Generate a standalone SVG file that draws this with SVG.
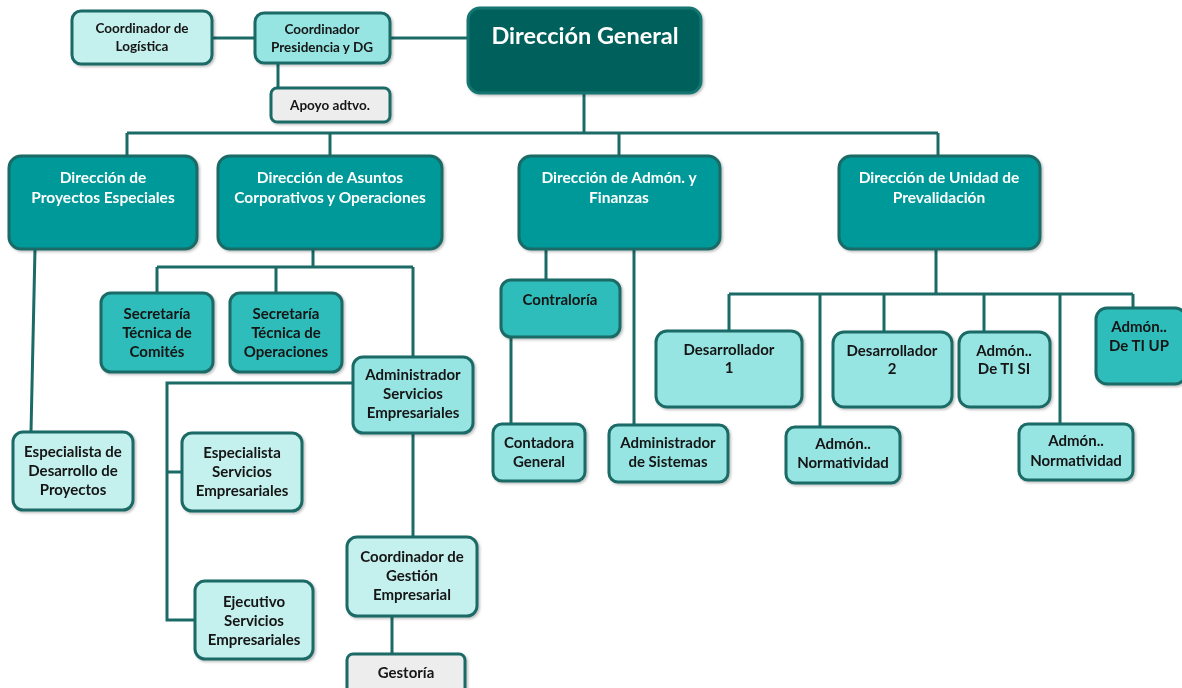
<svg xmlns="http://www.w3.org/2000/svg" width="1182" height="688" viewBox="0 0 1182 688">
<defs>
<style>
.n{stroke:#1B6A66;stroke-width:3}
.dg{fill:#02605B;stroke:#127570}
.d{fill:#009999}
.m{fill:#2FBDBA}
.l{fill:#96E5E3}
.p{fill:#C4F0EE}
.g{fill:#EDEDED}
text{font-family:Lato,"Liberation Sans",sans-serif;font-weight:bold;font-size:15px;fill:#141414;text-anchor:middle}
.s{font-size:13.5px}
.w{fill:#FFFFFF;font-size:15.5px}
.big{fill:#FFFFFF;font-size:23.5px}
#connectors path{fill:none;stroke:#1B6A66;stroke-width:3}
</style>
<filter id="sh" x="-10%" y="-10%" width="130%" height="130%">
<feDropShadow dx="1.5" dy="1.5" stdDeviation="1.2" flood-color="#000" flood-opacity="0.25"/>
</filter>
</defs>
<rect width="1182" height="688" fill="#FFFFFF"/>
<g id="connectors">
<path d="M212 38H255"/>
<path d="M390 38H468"/>
<path d="M278 63V88"/>
<path d="M584 93V133"/>
<path d="M127 133H938"/>
<path d="M127 133V156M330 133V156M619 133V156M938 133V156"/>
<path d="M35 249L31 432"/>
<path d="M313 249V267M157 267H413M157 267V293M276 267V293M413 267V357"/>
<path d="M353 383H167V620H195M167 472H182"/>
<path d="M413 433V537"/>
<path d="M392 616V654"/>
<path d="M546 249V280M511 337V424M634 249V425"/>
<path d="M936 249V294M729 294H1133M729 294V331M820 294V427M884 294V332M984 294V332M1060 294V424M1133 294V308"/>
</g>
<g filter="url(#sh)">
<g id="logistica"><rect class="n p" x="72" y="11" width="140" height="53" rx="9"/><text class="s" x="142" y="33">Coordinador de</text><text class="s" x="142" y="51">Logística</text></g>
<g id="presidencia"><rect class="n l" x="255" y="13" width="135" height="50" rx="9"/><text class="s" x="322" y="34">Coordinador</text><text class="s" x="322" y="52">Presidencia y DG</text></g>
<g id="apoyo"><rect class="n g" x="271" y="88" width="119" height="34" rx="6"/><text class="s" x="330" y="110">Apoyo adtvo.</text></g>
<g id="direccion-general"><rect class="n dg" x="468" y="8" width="233" height="85" rx="12"/><text class="big" x="585" y="44">Dirección General</text></g>
<g id="dir-proyectos"><rect class="n d" x="9" y="156" width="188" height="93" rx="12"/><text class="w" x="103" y="183">Dirección de</text><text class="w" x="103" y="203">Proyectos Especiales</text></g>
<g id="dir-asuntos"><rect class="n d" x="218" y="156" width="224" height="93" rx="12"/><text class="w" x="330" y="183">Dirección de Asuntos</text><text class="w" x="330" y="203">Corporativos y Operaciones</text></g>
<g id="dir-admon"><rect class="n d" x="519" y="156" width="201" height="93" rx="12"/><text class="w" x="619" y="183">Dirección de Admón. y</text><text class="w" x="619" y="203">Finanzas</text></g>
<g id="dir-prevalidacion"><rect class="n d" x="839" y="156" width="201" height="93" rx="12"/><text class="w" x="939" y="183">Dirección de Unidad de</text><text class="w" x="939" y="203">Prevalidación</text></g>
<g id="sec-comites"><rect class="n m" x="101" y="293" width="112" height="79" rx="10"/><text x="157" y="319">Secretaría</text><text x="157" y="338">Técnica de</text><text x="157" y="357">Comités</text></g>
<g id="sec-operaciones"><rect class="n m" x="230" y="293" width="112" height="79" rx="10"/><text x="286" y="319">Secretaría</text><text x="286" y="338">Técnica de</text><text x="286" y="357">Operaciones</text></g>
<g id="admin-servicios"><rect class="n l" x="353" y="357" width="120" height="76" rx="10"/><text x="413" y="380">Administrador</text><text x="413" y="399">Servicios</text><text x="413" y="418">Empresariales</text></g>
<g id="esp-desarrollo"><rect class="n p" x="13" y="432" width="120" height="78" rx="10"/><text x="73" y="457">Especialista de</text><text x="73" y="476">Desarrollo de</text><text x="73" y="495">Proyectos</text></g>
<g id="esp-servicios"><rect class="n p" x="182" y="433" width="120" height="78" rx="10"/><text x="242" y="458">Especialista</text><text x="242" y="477">Servicios</text><text x="242" y="496">Empresariales</text></g>
<g id="ejecutivo"><rect class="n p" x="195" y="581" width="118" height="78" rx="10"/><text x="254" y="607">Ejecutivo</text><text x="254" y="626">Servicios</text><text x="254" y="645">Empresariales</text></g>
<g id="coord-gestion"><rect class="n p" x="347" y="537" width="130" height="79" rx="10"/><text x="412" y="562">Coordinador de</text><text x="412" y="581">Gestión</text><text x="412" y="600">Empresarial</text></g>
<g id="gestoria"><rect class="n g" x="347" y="654" width="118" height="40" rx="6"/><text x="406" y="678">Gestoría</text></g>
<g id="contraloria"><rect class="n m" x="501" y="280" width="119" height="57" rx="10"/><text x="560" y="305">Contraloría</text></g>
<g id="contadora"><rect class="n l" x="493" y="424" width="92" height="57" rx="9"/><text x="539" y="448">Contadora</text><text x="539" y="467">General</text></g>
<g id="admin-sistemas"><rect class="n l" x="609" y="425" width="119" height="57" rx="9"/><text x="668" y="448">Administrador</text><text x="668" y="467">de Sistemas</text></g>
<g id="desarrollador1"><rect class="n l" x="656" y="331" width="146" height="76" rx="11"/><text x="729" y="355">Desarrollador</text><text x="729" y="373">1</text></g>
<g id="normatividad1"><rect class="n l" x="786" y="427" width="114" height="56" rx="9"/><text x="843" y="449">Admón..</text><text x="843" y="468">Normatividad</text></g>
<g id="desarrollador2"><rect class="n l" x="833" y="332" width="119" height="75" rx="11"/><text x="892" y="356">Desarrollador</text><text x="892" y="374">2</text></g>
<g id="ti-si"><rect class="n l" x="959" y="332" width="91" height="75" rx="11"/><text x="1004" y="356">Admón..</text><text x="1004" y="374">De TI SI</text></g>
<g id="normatividad2"><rect class="n l" x="1019" y="424" width="114" height="56" rx="9"/><text x="1076" y="446">Admón..</text><text x="1076" y="466">Normatividad</text></g>
<g id="ti-up"><rect class="n m" x="1096" y="308" width="90" height="76" rx="11"/><text x="1139" y="332">Admón..</text><text x="1139" y="351">De TI UP</text></g>
</g>
</svg>
